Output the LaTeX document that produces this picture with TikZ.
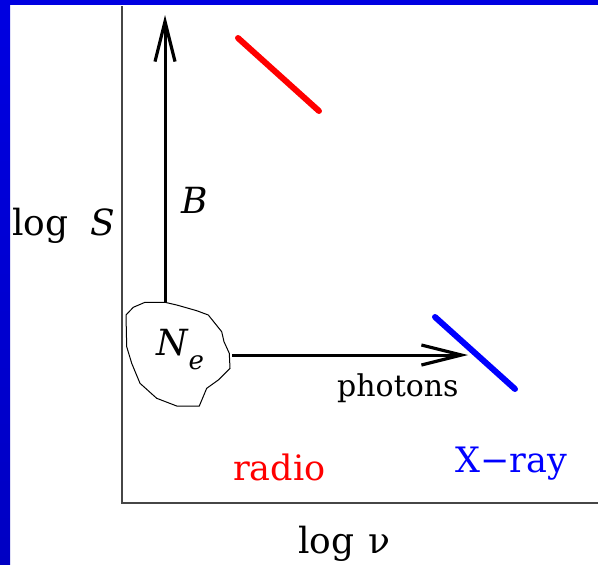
\documentclass[tikz,border=0pt]{standalone}
\usepackage{fontspec}
\setmainfont{DejaVu Serif}
\usetikzlibrary{arrows.meta}
\definecolor{slideblue}{RGB}{0,0,225}
\definecolor{axisgray}{RGB}{70,70,70}
\tikzset{
  axisline/.style={draw=axisgray, line width=1.5pt},
  fieldarrow/.style={draw=black, line width=3pt, -{Straight Barb[length=40pt,width=20pt,line width=3.2pt]}},
  spectrum/.style={line width=6pt, line cap=round},
  bigtext/.style={inner sep=0pt, anchor=base west, font=\fontsize{36}{44}\selectfont},
}
\begin{document}
\begin{tikzpicture}[x=1pt, y=-1pt]
\useasboundingbox (0,0) rectangle (598,565);
\fill[white] (0,0) rectangle (598,565);
% slide border
\shade[top color=slideblue, bottom color={rgb,255:red,0;green,0;blue,195}] (0,0) rectangle (10,565);
\fill[slideblue] (0,0) rectangle (598,5);
% axes
\coordinate (ytop) at (122,6);
\coordinate (origin) at (122,503);
\coordinate (xend) at (598,503);
\draw[axisline] (ytop) -- (origin) -- (xend);
% blob (electron population)
\draw[black, line width=1pt] (126,315) -- (133.3,307.3) -- (145,302.3) -- (165,302.3) -- (176.7,305) -- (196.7,310.7) -- (208.3,315) -- (221.7,331.7) -- (224,341.7) -- (229.3,353.3) -- (230,368.3) -- (218.3,380) -- (206.7,388.3) -- (199.3,406) -- (176.7,406) -- (156.7,398.3) -- (140,383.3) -- (131.7,363.3) -- (126.7,346.7) -- cycle;
\coordinate (blobtop) at (165,302.3);
\coordinate (blobright) at (232,355);
\coordinate (btip) at (165,15);
\coordinate (ptip) at (468,355);
\draw[fieldarrow] (blobtop) -- (btip);
\draw[fieldarrow] (blobright) -- (ptip);
% spectra
\coordinate (r1) at (238,38);
\coordinate (r2) at (319,111);
\coordinate (x1) at (435,317);
\coordinate (x2) at (515,389);
\draw[spectrum, red] (r1) -- (r2);
\draw[spectrum, blue] (x1) -- (x2);
% labels
\node[bigtext] (logS) at (12,235) {log\hspace{22pt}\textit{S}};
\node[bigtext] (B) at (181,213) {\textit{B}};
\node[bigtext] (Ne) at (156,355) {\textit{N}\raisebox{-14pt}{\fontsize{26}{30}\selectfont\textit{e}}};
\node[bigtext, font=\fontsize{30}{36}\selectfont] (photons) at (337,396) {photons};
\node[bigtext, text=red, font=\fontsize{35}{42}\selectfont] (radio) at (233,480) {radio};
\node[bigtext, text=blue, font=\fontsize{35}{42}\selectfont] (xray) at (455,472) {X−ray};
\node[bigtext] (lognu) at (298,553) {log\hspace{14pt}ν};
\end{tikzpicture}
\end{document}
